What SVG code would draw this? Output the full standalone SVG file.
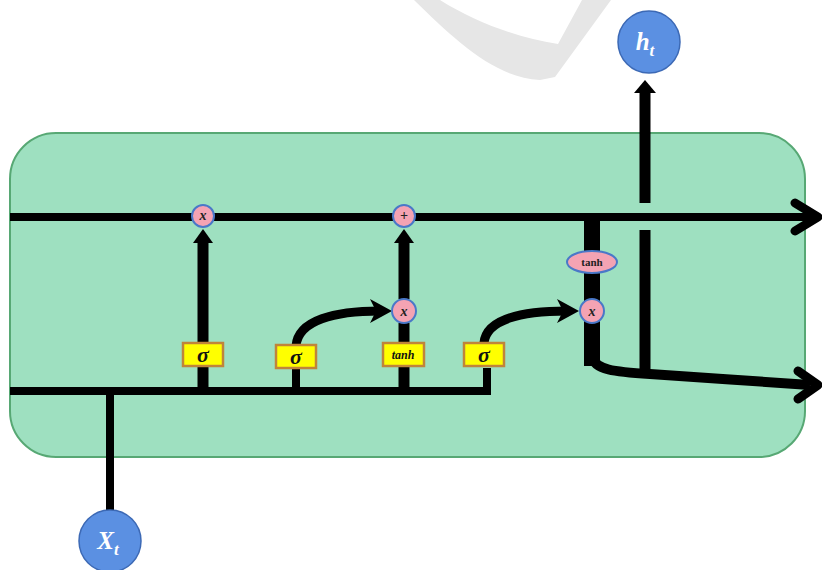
<svg xmlns="http://www.w3.org/2000/svg" width="822" height="570" viewBox="0 0 822 570">
<defs>
<style>
.ln{fill:none;stroke:#000;stroke-width:8}
.lt{fill:none;stroke:#000;stroke-width:11}
.chev{fill:none;stroke:#000;stroke-width:9;stroke-linecap:round;stroke-linejoin:round}
.op{fill:#f4a3b3;stroke:#4a78c8;stroke-width:2}
.box{fill:#ffff00;stroke:#c0843a;stroke-width:2.5}
.io{fill:#5b90e2;stroke:#3c69b5;stroke-width:1.5}
.opt{font-family:"Liberation Serif",serif;font-weight:bold;font-style:italic;font-size:14px;fill:#222;text-anchor:middle}
.sig{font-family:"Liberation Serif",serif;font-weight:bold;font-style:italic;font-size:22px;fill:#111;text-anchor:middle}
.tb{font-family:"Liberation Serif",serif;font-weight:bold;font-style:italic;font-size:12px;fill:#111;text-anchor:middle}
.te{font-family:"Liberation Serif",serif;font-weight:bold;font-size:11px;fill:#222;text-anchor:middle}
.iot{font-family:"Liberation Serif",serif;font-weight:bold;font-style:italic;font-size:25px;fill:#fff;text-anchor:middle}
</style>
</defs>
<rect width="822" height="570" fill="#fff"/>
<path d="M414,0 C455,40 495,78 540,80 L555,77 L611,0 L582,0 L558,44 C518,38 475,22 440,0 Z" fill="#e6e6e6"/>
<g id="cell">
<rect x="10" y="133" width="795" height="324" rx="46" ry="46" fill="#9ee0c0" stroke="#57a874" stroke-width="2"/>
</g>
<g id="connectors">
<line class="ln" x1="10" y1="217" x2="815" y2="217"/>
<polyline class="chev" points="795,203 818,217 795,231"/>
<path class="ln" d="M10,391 H487 V368"/>
<line class="ln" x1="110" y1="391" x2="110" y2="510"/>
<line class="lt" x1="203" y1="391" x2="203" y2="242"/>
<path d="M193,243 L203,229 L213,243 Z" fill="#000"/>
<line class="ln" x1="296" y1="391" x2="296" y2="368"/>
<line class="lt" x1="404" y1="391" x2="404" y2="323"/>
<line class="lt" x1="404" y1="299" x2="404" y2="242"/>
<path d="M394,243 L404,229 L414,243 Z" fill="#000"/>
<path d="M296,346 C298,320 335,311 380,311" fill="none" stroke="#000" stroke-width="9"/>
<path d="M370,299 L392,311 L370,323 L376,311 Z" fill="#000"/>
<path d="M484,343 C486,320 520,311 567,311" fill="none" stroke="#000" stroke-width="9"/>
<path d="M557,299 L579,311 L557,323 L563,311 Z" fill="#000"/>
<line x1="592" y1="213" x2="592" y2="366" stroke="#000" stroke-width="16"/>
<path d="M592,356 C594,370 615,372 650,374 C700,377 760,382 810,385" fill="none" stroke="#000" stroke-width="10"/>
<polyline class="chev" points="798,371 818,385 798,399"/>
<line class="lt" x1="645" y1="372" x2="645" y2="230"/>
<line class="lt" x1="645" y1="203" x2="645" y2="92"/>
<path d="M634,93 L645,80 L656,93 Z" fill="#000"/>
</g>
<g id="forget_mul"><circle class="op" cx="203" cy="216" r="11"/><text class="opt" x="203" y="220">x</text></g>
<g id="add"><circle class="op" cx="404" cy="216" r="11"/><text class="opt" x="404" y="220" font-style="normal" font-size="12">+</text></g>
<g id="input_mul"><circle class="op" cx="404" cy="311" r="12"/><text class="opt" x="404" y="316">x</text></g>
<g id="output_mul"><circle class="op" cx="592" cy="311" r="12"/><text class="opt" x="592" y="316">x</text></g>
<g id="tanh_cell"><ellipse class="op" cx="592" cy="262" rx="25" ry="11"/><text class="te" x="592" y="266">tanh</text></g>
<g id="sigma1"><rect class="box" x="183" y="343" width="40" height="23"/><text class="sig" x="203" y="362">σ</text></g>
<g id="sigma2"><rect class="box" x="276" y="345" width="40" height="23"/><text class="sig" x="296" y="364">σ</text></g>
<g id="tanh_gate"><rect class="box" x="383" y="343" width="41" height="23"/><text class="tb" x="403" y="359">tanh</text></g>
<g id="sigma3"><rect class="box" x="464" y="343" width="40" height="23"/><text class="sig" x="484" y="362">σ</text></g>
<g id="h_t"><circle class="io" cx="649" cy="42" r="31"/><text class="iot" x="645" y="50">h<tspan font-size="17" dy="6">t</tspan></text></g>
<g id="x_t"><circle class="io" cx="110" cy="541" r="31"/><text class="iot" x="108" y="549">X<tspan font-size="17" dy="6">t</tspan></text></g>
</svg>
